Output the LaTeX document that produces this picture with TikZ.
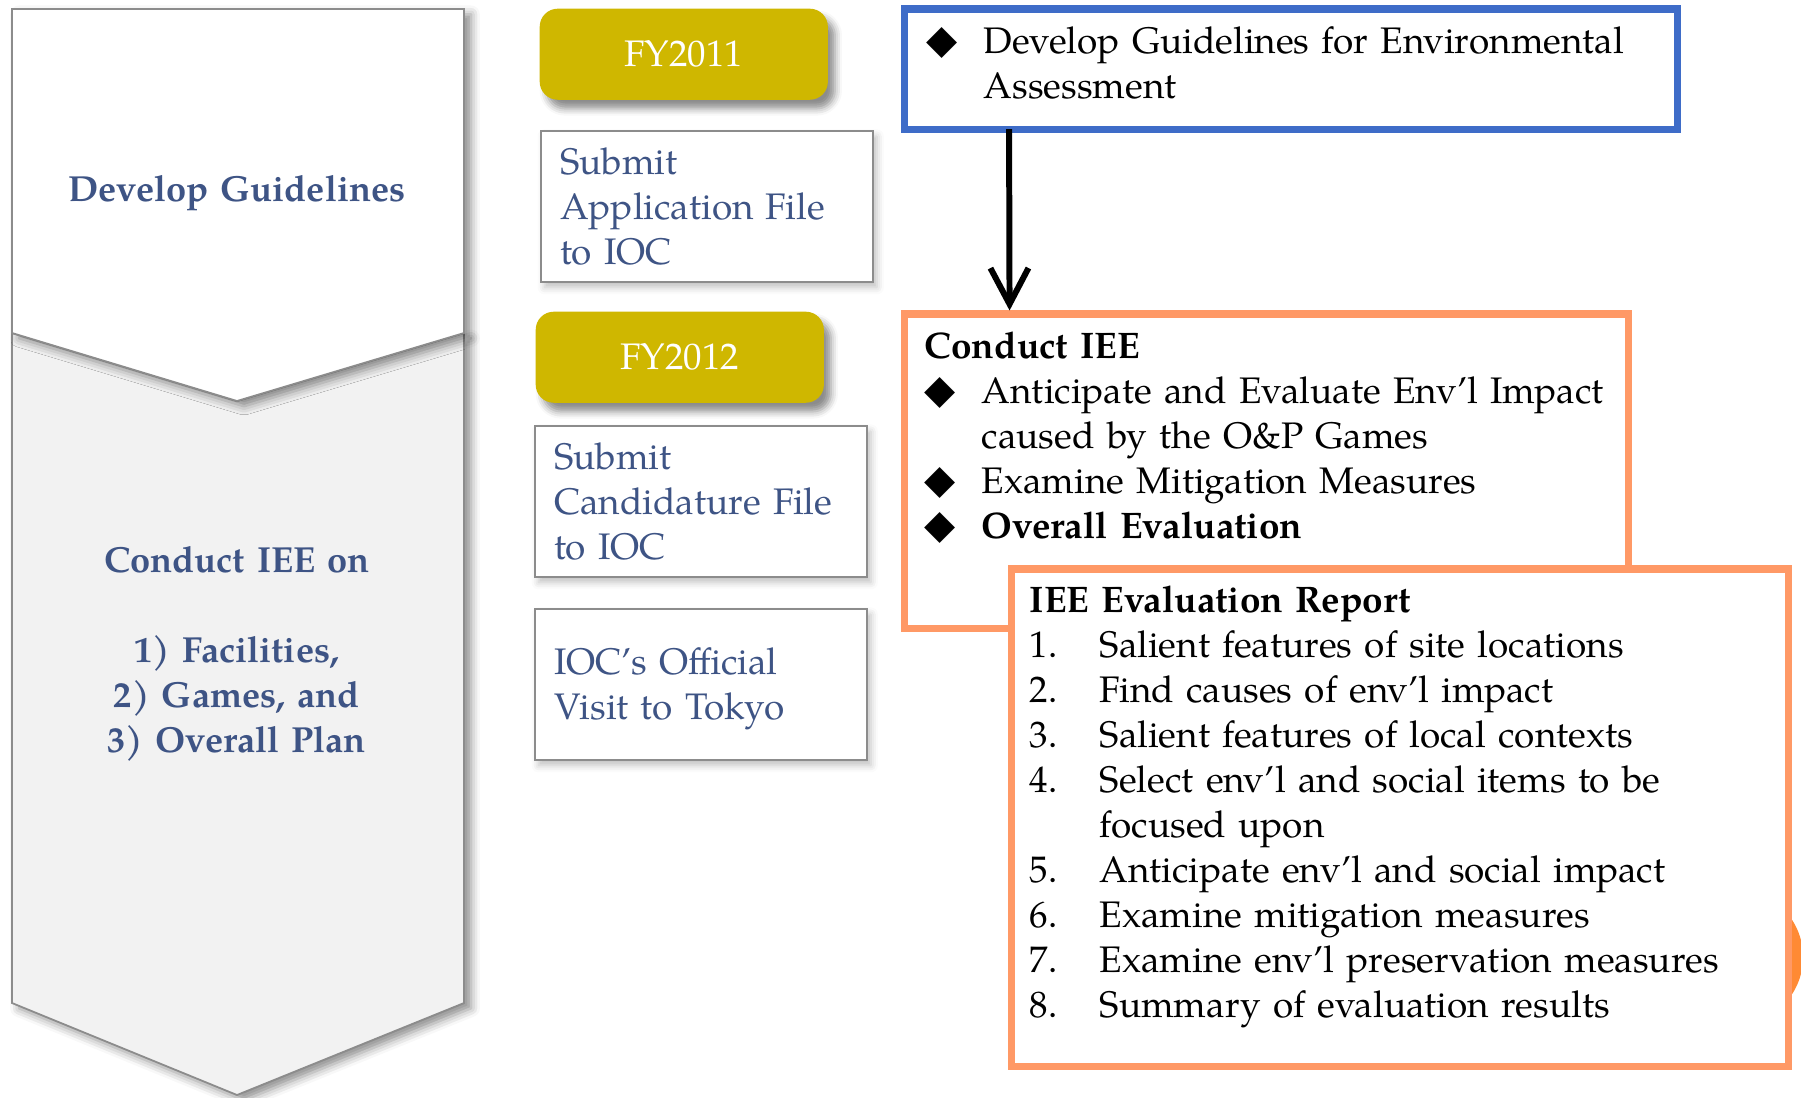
\documentclass[tikz,border=0pt]{standalone}
\usepackage{fontspec}
\setmainfont{TeX Gyre Pagella}
\newfontfamily\symfont{DejaVu Sans}
\usepackage{xcolor}
\definecolor{ieenavy}{RGB}{62,84,133}
\definecolor{ieegold}{RGB}{207,183,0}
\definecolor{ieeblue}{RGB}{62,108,200}
\definecolor{ieeorange}{RGB}{255,153,102}
\definecolor{ieedeep}{RGB}{255,138,52}
\definecolor{ieegray}{RGB}{242,242,242}
\definecolor{ieeline}{RGB}{140,140,140}
\usetikzlibrary{arrows.meta,positioning,shadows.blur,calc}

\newcommand{\bodyfont}{\fontsize{10.5}{12.8}\selectfont}
\newcommand{\chevfont}{\fontsize{10.3}{12.8}\selectfont}
\newcommand{\topstrut}{\rule{0pt}{11pt}}
\newcommand{\dia}{{\symfont\fontsize{11.5}{12.8}\selectfont ◆}}
\newcommand{\diaitem}[1]{\par\noindent\hangindent=0.57cm\hangafter=1\makebox[0.57cm][l]{\dia}#1}
\newcommand{\numitem}[2]{\par\noindent\hangindent=0.70cm\hangafter=1\makebox[0.70cm][l]{#1}#2}

\begin{document}
\begin{tikzpicture}[x=0.01cm,y=-0.01cm,
  chevron/.style={draw=ieeline,line width=0.5pt,
        blur shadow={shadow xshift=2pt,shadow yshift=-1.5pt,shadow blur radius=2.5pt,shadow opacity=45}},
  chevtext/.style={text=ieenavy,font=\chevfont\bfseries,align=center,
        text width=4.2cm,inner sep=0pt,anchor=north},
  yearbox/.style={fill=ieegold,rounded corners=0.18cm,minimum width=2.88cm,
        minimum height=0.91cm,text=white,font=\bodyfont,inner sep=0pt,anchor=north west,
        blur shadow={shadow xshift=2pt,shadow yshift=-2.5pt,shadow blur radius=2pt,shadow opacity=45}},
  stepbox/.style={draw=ieeline,line width=0.6pt,fill=white,text=ieenavy,font=\bodyfont,
        align=left,text width=2.94cm,inner xsep=0.19cm,inner ysep=0pt,
        minimum height=1.51cm,anchor=north west,
        blur shadow={shadow xshift=1pt,shadow yshift=-1.5pt,shadow blur radius=2pt,shadow opacity=25}},
  framebox/.style={line width=2pt,fill=white,inner sep=0pt,outer sep=0pt,anchor=north west},
  listtext/.style={font=\bodyfont,align=left,inner sep=0pt,anchor=north west},
  flowarrow/.style={line width=1.7pt,-{Straight Barb[length=3.6mm,width=3.8mm]},shorten >=1pt}]
  \useasboundingbox (0,0) rectangle (1801,1097);
  \clip (0,0) rectangle (1801,1097);

  % Left chevrons
  \draw[chevron,fill=ieegray] (12,333) -- (237,401) -- (464,333) -- (464,1003)
        -- (237,1095) -- (12,1003) -- cycle;
  \draw[chevron,fill=white] (12,9) -- (464,9) -- (464,333) -- (237,401) -- (12,333) -- cycle;
  \node[chevtext] (devg) at (237,169.5) {\strut Develop Guidelines};
  \node[chevtext] (conduct) at (237,540.5)
        {\strut Conduct IEE on\\[12.8pt]1) Facilities,\\2) Games, and\\3) Overall Plan};

  % Fiscal years and IOC steps
  \node[yearbox] (fy11) at (539,8) {FY2011};
  \node[stepbox] (appfile) at (540,130) {\topstrut Submit\\Application File\\to IOC\strut};
  \node[yearbox] (fy12) at (535,311) {FY2012};
  \node[stepbox] (candfile) at (534,425) {\topstrut Submit\\Candidature File\\to IOC\strut};
  \node[stepbox] (visit) at (534,608) {\topstrut IOC’s Official\\Visit to Tokyo\strut};

  % Guidelines box
  \node[framebox,draw=ieeblue,minimum width=7.73cm,minimum height=1.2cm] (guide) at (904,9) {};
  \node[listtext,text width=7.3cm] (guidetxt) at ([shift={(22,12.5)}]guide.north west)
        {\strut\makebox[0.57cm][l]{\dia}Develop Guidelines for Environmental\\
         \hspace*{0.57cm}Assessment};

  % IEE boxes
  \fill[ieedeep] (1735,957) circle[radius=0.68cm];
  \node[framebox,draw=ieeorange,minimum width=7.235cm,minimum height=3.14cm] (iee) at (904.5,314) {};
  \node[listtext,text width=7.05cm] (ieetxt) at ([shift={(19.5,12.5)}]iee.north west)
        {\strut\textbf{Conduct IEE}
         \diaitem{Anticipate and Evaluate Env’l Impact\newline caused by the O\&P Games}
         \diaitem{Examine Mitigation Measures}
         \diaitem{\textbf{Overall Evaluation}}};
  \node[framebox,draw=ieeorange,minimum width=7.765cm,minimum height=4.97cm] (report) at (1011.5,569) {};
  \node[listtext,text width=7.4cm] (reporttxt) at ([shift={(17.5,11.5)}]report.north west)
        {\strut\textbf{IEE Evaluation Report}
         \numitem{1.}{Salient features of site locations}
         \numitem{2.}{Find causes of env’l impact}
         \numitem{3.}{Salient features of local contexts}
         \numitem{4.}{Select env’l and social items to be\newline focused upon}
         \numitem{5.}{Anticipate env’l and social impact}
         \numitem{6.}{Examine mitigation measures}
         \numitem{7.}{Examine env’l preservation measures}
         \numitem{8.}{Summary of evaluation results}};

  % Arrow
  \draw[flowarrow] ([xshift=1.05cm]guide.south west) -- ([xshift=1.05cm]iee.north west);
\end{tikzpicture}
\end{document}
